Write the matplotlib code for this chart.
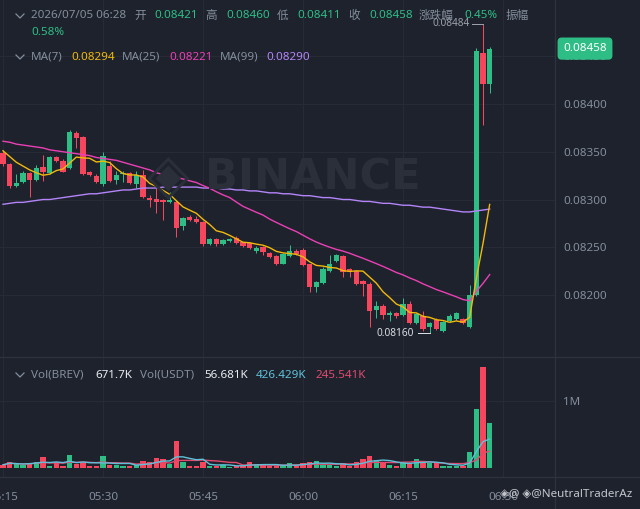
import numpy as np
import pandas as pd
import matplotlib
matplotlib.use('Agg')
import matplotlib.pyplot as plt
from matplotlib.lines import Line2D
from matplotlib.transforms import blended_transform_factory

# ---------------- data ----------------
start_time = '2026-07-05 05:15'
opens = [0.08349, 0.08337, 0.08314, 0.08318, 0.08328, 0.08320, 0.08334, 0.08328, 0.08344, 0.08340,
         0.08333, 0.08370, 0.08365, 0.08329, 0.08325, 0.08316, 0.08335, 0.08320, 0.08327, 0.08328,
         0.08316, 0.08326, 0.08302, 0.08301, 0.08300, 0.08297, 0.08297, 0.08272, 0.08282, 0.08280,
         0.08276, 0.08253, 0.08259, 0.08253, 0.08257, 0.08260, 0.08255, 0.08254, 0.08246, 0.08250,
         0.08244, 0.08241, 0.08233, 0.08241, 0.08246, 0.08247, 0.08232, 0.08208, 0.08213, 0.08225,
         0.08236, 0.08241, 0.08227, 0.08225, 0.08215, 0.08212, 0.08184, 0.08189, 0.08179, 0.08181,
         0.08179, 0.08191, 0.08171, 0.08178, 0.08166, 0.08174, 0.08162, 0.08173, 0.08175, 0.08175,
         0.08167, 0.08200, 0.08453, 0.08421]
highs = [0.08352, 0.08338, 0.08327, 0.08330, 0.08329, 0.08336, 0.08347, 0.08346, 0.08346, 0.08342,
         0.08373, 0.08372, 0.08366, 0.08330, 0.08327, 0.08350, 0.08340, 0.08330, 0.08330, 0.08329,
         0.08330, 0.08331, 0.08305, 0.08312, 0.08301, 0.08308, 0.08299, 0.08282, 0.08284, 0.08283,
         0.08278, 0.08260, 0.08260, 0.08259, 0.08260, 0.08262, 0.08256, 0.08255, 0.08251, 0.08251,
         0.08245, 0.08242, 0.08244, 0.08252, 0.08248, 0.08249, 0.08233, 0.08215, 0.08229, 0.08242,
         0.08243, 0.08242, 0.08228, 0.08226, 0.08216, 0.08214, 0.08194, 0.08191, 0.08183, 0.08182,
         0.08197, 0.08194, 0.08181, 0.08183, 0.08172, 0.08176, 0.08173, 0.08180, 0.08182, 0.08176,
         0.08210, 0.08459, 0.08484, 0.08460]
lows = [0.08335, 0.08312, 0.08313, 0.08317, 0.08303, 0.08319, 0.08319, 0.08327, 0.08339, 0.08329,
        0.08332, 0.08354, 0.08326, 0.08325, 0.08317, 0.08314, 0.08318, 0.08316, 0.08318, 0.08316,
        0.08312, 0.08302, 0.08292, 0.08286, 0.08279, 0.08296, 0.08261, 0.08268, 0.08278, 0.08275,
        0.08251, 0.08252, 0.08251, 0.08252, 0.08256, 0.08253, 0.08250, 0.08248, 0.08244, 0.08242,
        0.08239, 0.08231, 0.08232, 0.08240, 0.08242, 0.08230, 0.08203, 0.08203, 0.08212, 0.08224,
        0.08235, 0.08219, 0.08219, 0.08210, 0.08199, 0.08167, 0.08176, 0.08175, 0.08173, 0.08176,
        0.08178, 0.08170, 0.08170, 0.08162, 0.08160, 0.08163, 0.08161, 0.08172, 0.08174, 0.08170,
        0.08165, 0.08199, 0.08378, 0.08411]
closes = [0.08337, 0.08314, 0.08317, 0.08328, 0.08320, 0.08333, 0.08329, 0.08345, 0.08340, 0.08329,
          0.08371, 0.08364, 0.08327, 0.08326, 0.08318, 0.08346, 0.08319, 0.08326, 0.08328, 0.08317,
          0.08326, 0.08303, 0.08299, 0.08297, 0.08297, 0.08299, 0.08270, 0.08281, 0.08279, 0.08276,
          0.08253, 0.08259, 0.08253, 0.08258, 0.08259, 0.08254, 0.08251, 0.08249, 0.08249, 0.08245,
          0.08240, 0.08232, 0.08243, 0.08246, 0.08243, 0.08231, 0.08208, 0.08214, 0.08227, 0.08233,
          0.08242, 0.08224, 0.08225, 0.08212, 0.08212, 0.08183, 0.08189, 0.08179, 0.08181, 0.08178,
          0.08191, 0.08171, 0.08180, 0.08164, 0.08171, 0.08164, 0.08172, 0.08178, 0.08181, 0.08171,
          0.08200, 0.08455, 0.08421, 0.08458]
volumes_k = [40, 87, 48, 36, 75, 87, 150, 27, 78, 27,
             188, 48, 75, 20, 27, 172, 40, 40, 25, 27,
             40, 97, 78, 142, 127, 48, 402, 78, 27, 27,
             87, 25, 22, 40, 15, 25, 25, 80, 48, 40,
             27, 25, 27, 63, 27, 75, 78, 97, 40, 40,
             27, 63, 27, 78, 127, 172, 105, 75, 40, 27,
             87, 75, 132, 63, 63, 63, 27, 25, 25, 27,
             228, 871, 1510, 671.7]
vol_usdt_k = 56.681
vol_ma5_tail_k = [237, 387, 426.429]
vol_ma10_tail_k = [112, 212, 245.541]
ma7_head = [0.08351, 0.08345, 0.08339, 0.08335, 0.08331, 0.08328]
ma25_head = [0.08361, 0.08360, 0.08358, 0.08357, 0.08356, 0.08355, 0.08354, 0.08352, 0.08351, 0.08350,
             0.08349, 0.08348, 0.08347, 0.08346, 0.08344, 0.08343, 0.08342, 0.08341, 0.08339, 0.08337,
             0.08335, 0.08333, 0.08331, 0.08328]
ma99 = [0.08295, 0.08296, 0.08297, 0.08297, 0.08298, 0.08299, 0.08300, 0.08300, 0.08301, 0.08302,
        0.08303, 0.08304, 0.08305, 0.08306, 0.08306, 0.08307, 0.08308, 0.08309, 0.08310, 0.08310,
        0.08311, 0.08312, 0.08312, 0.08312, 0.08313, 0.08313, 0.08313, 0.08313, 0.08313, 0.08313,
        0.08312, 0.08312, 0.08312, 0.08311, 0.08311, 0.08310, 0.08310, 0.08309, 0.08309, 0.08308,
        0.08307, 0.08307, 0.08306, 0.08306, 0.08305, 0.08304, 0.08304, 0.08303, 0.08302, 0.08302,
        0.08301, 0.08300, 0.08300, 0.08299, 0.08298, 0.08298, 0.08297, 0.08296, 0.08296, 0.08295,
        0.08294, 0.08294, 0.08293, 0.08292, 0.08292, 0.08291, 0.08290, 0.08289, 0.08288, 0.08287,
        0.08287, 0.08288, 0.08289, 0.08290]
ma_legend_values = [0.08294, 0.08221, 0.08290]
change_pct = '0.45%'
amplitude_pct = '0.58%'
time_ticks = ['05:15', '05:30', '05:45', '06:00', '06:15', '06:30']
price_ticks = [0.08200, 0.08250, 0.08300, 0.08350, 0.08400, 0.08450]
vol_ticks = [1_000_000]
vol_tick_labels = ['1M']

# ---------------- styling ----------------
BG = '#1e222d'
GRID = '#272b35'
SEP = '#2e323c'
UP = '#2ebd85'
DN = '#f6465d'
GRAY = '#848e9c'
WHITE = '#eaecef'
C_MA7 = '#f0b90b'
C_MA25 = '#eb40b5'
C_MA99 = '#b385f8'
C_VMA5 = '#5fc1d9'
C_VMA10 = '#e04a6e'
FAM = ['Noto Sans', 'Noto Sans CJK SC', 'DejaVu Sans']
FS = 8.4
plt.rcParams['font.family'] = FAM

W, H = 640, 509
fig = plt.figure(figsize=(W / 100, H / 100), dpi=100, facecolor=BG)

def fpos(x, y):
    return x / W, 1 - y / H

PX = 0.72  # one pixel in points

times = pd.date_range(start_time, periods=len(closes), freq='min')
x = np.asarray((times - times[0]).total_seconds() / 60.0)
o = np.array(opens); h = np.array(highs); l = np.array(lows); c = np.array(closes)
v = np.array(volumes_k) * 1000.0
up = c >= o
colors = np.where(up, UP, DN)

tick_pos = [((pd.Timestamp(start_time[:11] + t) - times[0]).total_seconds() / 60.0) for t in time_ticks]

xlim = (-0.45, 82.8)
ax = fig.add_axes([0, 1 - 357 / H, 555 / W, 357 / H], facecolor=BG)
axv = fig.add_axes([0, 1 - 477 / H, 555 / W, 120 / H], facecolor=BG)

# price panel
ax.set_xlim(*xlim)
ax.set_ylim(0.081351, 0.085089)
for t in tick_pos:
    ax.axvline(t, color=GRID, lw=0.8, zorder=0)
for p in price_ticks:
    ax.axhline(p, color=GRID, lw=0.8, zorder=0)

ax.vlines(x, l, h, colors=colors, lw=PX * 1.0, zorder=2)
body_lo = np.minimum(o, c)
body_h = np.maximum(np.abs(c - o), 0.0000095)
ax.bar(x, body_h, bottom=body_lo, width=0.76, color=colors, edgecolor='none', zorder=3)

ma7 = pd.Series(closes).rolling(7).mean().to_numpy()
ma7[:len(ma7_head)] = ma7_head
ma25 = pd.Series(closes).rolling(25).mean().to_numpy()
ma25[:len(ma25_head)] = ma25_head
ax.plot(x, ma99, color=C_MA99, lw=1.0, zorder=4)
ax.plot(x, ma25, color=C_MA25, lw=1.0, zorder=4)
ax.plot(x, ma7, color=C_MA7, lw=1.0, zorder=5)

ax.yaxis.tick_right()
ax.set_yticks(price_ticks)
ax.set_yticklabels([f'{p:.5f}' for p in price_ticks])
ax.tick_params(axis='y', length=0, pad=5.8, labelsize=FS, labelcolor=GRAY)
ax.set_xticks([])
for s in ax.spines.values():
    s.set_visible(False)

# high / low markers
imax = int(np.argmax(h)); imin = int(np.argmin(l))
ax.plot([x[imax] - 1.7, x[imax]], [h[imax], h[imax]], color='#9aa0aa', lw=PX, zorder=6)
ax.text(x[imax] - 2.0, h[imax], f'{h[imax]:.5f}', color='#9aa0aa', fontsize=7.3,
        ha='right', va='center', zorder=6)
ax.plot([x[imin] - 1.7, x[imin]], [l[imin], l[imin]], color='#d9dce1', lw=PX, zorder=6)
ax.text(x[imin] - 2.3, l[imin], f'{l[imin]:.5f}', color='#d9dce1', fontsize=7.3,
        ha='right', va='center', zorder=6)

# current price tag
trans = blended_transform_factory(ax.transAxes, ax.transData)
ax.text(585 / 555, c[-1], f'{c[-1]:.5f}', transform=trans, ha='center', va='center',
        color='white', fontsize=FS, clip_on=False, zorder=10,
        bbox=dict(boxstyle='round,pad=0.48,rounding_size=0.35', fc=UP, ec='none'))

# BINANCE watermark
fig.text(*fpos(168, 178), '◈', color='#2a2f3a', fontsize=40, ha='center', va='center',
         family='DejaVu Sans')
fig.text(*fpos(313, 178), 'BINANCE', color='#2a2f3a', fontsize=31, fontweight='bold',
         ha='center', va='center', family='DejaVu Sans')

# volume panel
axv.set_xlim(*xlim)
axv.set_ylim(-0.142e6, 1.654e6)
for t in tick_pos:
    axv.axvline(t, color=GRID, lw=0.8, zorder=0)
for t in vol_ticks:
    axv.axhline(t, color=GRID, lw=0.8, zorder=0)
axv.bar(x, v, width=0.76, color=colors, edgecolor='none', zorder=2)
vma5 = pd.Series(v).rolling(5, min_periods=1).mean().to_numpy()
vma5[-len(vol_ma5_tail_k):] = np.array(vol_ma5_tail_k) * 1000
vma10 = pd.Series(v).rolling(10, min_periods=1).mean().to_numpy()
vma10[-len(vol_ma10_tail_k):] = np.array(vol_ma10_tail_k) * 1000
axv.plot(x, vma10, color=C_VMA10, lw=1.0, zorder=3)
axv.plot(x, vma5, color=C_VMA5, lw=1.0, zorder=3)
axv.yaxis.tick_right()
axv.set_yticks(vol_ticks)
axv.set_yticklabels(vol_tick_labels)
axv.tick_params(axis='y', length=0, pad=5.8, labelsize=FS, labelcolor=GRAY)
axv.set_xticks(tick_pos)
axv.set_xticklabels(time_ticks)
axv.tick_params(axis='x', length=0, pad=11, labelsize=FS, labelcolor=GRAY)
for s in axv.spines.values():
    s.set_visible(False)

# separators
for yy in (357, 477):
    fig.add_artist(Line2D([0, 1], [1 - yy / H] * 2, transform=fig.transFigure, color=SEP, lw=0.9))
fig.add_artist(Line2D([555 / W] * 2, [0, 1], transform=fig.transFigure, color=SEP, lw=0.9))

# chevrons
def chevron(cx, cy):
    fig.add_artist(Line2D([(cx - 4) / W, cx / W, (cx + 4) / W],
                          [1 - (cy - 2) / H, 1 - (cy + 2) / H, 1 - (cy - 2) / H],
                          transform=fig.transFigure, color=GRAY, lw=0.9))

def row(items, y):
    for xx, txt, col in items:
        fig.text(*fpos(xx, y), txt, color=col, fontsize=FS, ha='left', va='center')

chevron(20, 16)
row([(31, '2026/07/05 06:28', GRAY), (134, '开', GRAY), (154, f'{o[-1]:.5f}', UP),
     (205, '高', GRAY), (226, f'{h[-1]:.5f}', UP), (277, '低', GRAY), (297, f'{l[-1]:.5f}', UP),
     (348, '收', GRAY), (369, f'{c[-1]:.5f}', UP), (419, '涨跌幅', GRAY), (464, change_pct, UP),
     (506, '振幅', GRAY)], 16)
row([(31, amplitude_pct, UP)], 32.5)
chevron(20, 57)
row([(31, 'MA(7)', GRAY), (71, f'{ma_legend_values[0]:.5f}', C_MA7), (122, 'MA(25)', GRAY),
     (169, f'{ma_legend_values[1]:.5f}', C_MA25), (220, 'MA(99)', GRAY),
     (266, f'{ma_legend_values[2]:.5f}', C_MA99)], 57)
chevron(20, 375)
row([(31, 'Vol(BREV)', GRAY), (95, f'{volumes_k[-1]:.1f}K', WHITE), (140, 'Vol(USDT)', GRAY),
     (204, f'{vol_usdt_k:.3f}K', WHITE), (256, f'{vol_ma5_tail_k[-1]:.3f}K', C_VMA5),
     (316, f'{vol_ma10_tail_k[-1]:.3f}K', C_VMA10)], 375)

# author watermark
fig.text(*fpos(632, 494), '◈@ ◈@NeutralTraderAz', color='#d4d7dc', fontsize=FS,
         ha='right', va='center', family=['Noto Sans', 'DejaVu Sans'], alpha=0.9)

fig.savefig('out.png', dpi=100, facecolor=BG)
